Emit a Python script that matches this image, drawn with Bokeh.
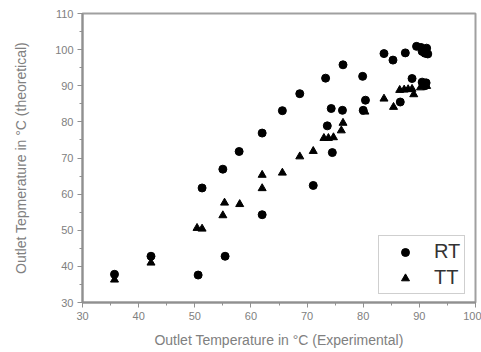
from bokeh.plotting import figure
from bokeh.models import Range1d, Legend, LegendItem, SingleIntervalTicker
from bokeh.embed import file_html
from bokeh.resources import INLINE

rt_x = [35.7, 42.2, 50.6, 51.3, 55.0, 55.4, 57.9, 62.0, 62.0, 65.6, 68.7, 71.1, 73.3, 73.6,
        74.3, 74.5, 76.3, 76.4, 79.9, 80.4, 80.0, 83.7, 85.3, 87.5, 86.6, 88.7, 89.5, 90.3,
        90.8, 91.3, 91.0, 90.5, 91.5, 90.5, 91.2, 91.0]
rt_y = [37.8, 42.8, 37.6, 61.7, 66.9, 42.8, 71.8, 76.9, 54.3, 83.1, 87.8, 62.4, 92.1, 78.9,
        83.7, 71.5, 83.2, 95.8, 92.6, 86.0, 83.2, 98.9, 97.1, 99.1, 85.5, 92.0, 100.9, 100.6,
        100.0, 100.4, 99.0, 99.5, 98.8, 91.0, 90.8, 90.0]

tt_x = [35.7, 42.2, 50.4, 51.3, 55.3, 55.0, 58.0, 62.0, 62.0, 65.6, 68.7, 71.1, 73.0, 73.8,
        74.7, 76.1, 76.4, 80.3, 83.7, 85.4, 86.5, 87.3, 88.0, 88.7, 89.0, 90.2, 91.3]
tt_y = [36.3, 41.0, 50.6, 50.4, 57.6, 54.1, 57.2, 65.3, 61.6, 65.9, 70.4, 71.9, 75.5, 75.5,
        75.7, 77.6, 79.7, 82.8, 86.4, 84.1, 88.8, 88.9, 89.0, 89.1, 87.6, 89.5, 89.9]

x_label = "Outlet Temperature in °C (Experimental)"
y_label = "Outlet Tepmerature in °C (theoretical)"

p = figure(width=481, height=352, x_range=Range1d(30, 100), y_range=Range1d(30, 110),
           output_backend="svg", toolbar_location=None,
           min_border_left=82, min_border_right=6, min_border_top=13, min_border_bottom=50)
p.background_fill_color = "white"
p.border_fill_color = "white"
p.xgrid.visible = False
p.ygrid.visible = False
p.outline_line_color = "#a0a0a0"
p.outline_line_width = 2

for ax, lab in ((p.xaxis[0], x_label), (p.yaxis[0], y_label)):
    ax.ticker = SingleIntervalTicker(interval=10, num_minor_ticks=2)
    ax.axis_label = lab
    ax.axis_line_color = "#909090"
    ax.axis_line_width = 2
    ax.major_tick_line_color = "#909090"
    ax.minor_tick_line_color = "#909090"
    ax.major_tick_out = 5
    ax.major_tick_in = 0
    ax.minor_tick_out = 3
    ax.minor_tick_in = 0
    ax.major_label_text_font = "Liberation Sans"
    ax.major_label_text_font_size = "11px"
    ax.major_label_text_color = "#808080"
    ax.axis_label_text_font = "Liberation Sans"
    ax.axis_label_text_font_size = "14px"
    ax.axis_label_text_font_style = "normal"
    ax.axis_label_text_color = "#808080"

p.xaxis.major_label_standoff = 4
p.xaxis.axis_label_standoff = 9
p.yaxis.major_label_standoff = 4
p.yaxis.axis_label_standoff = 23

r1 = p.scatter(rt_x, rt_y, marker="circle", size=8, color="black")
r2 = p.scatter(tt_x, tt_y, marker="triangle", size=8, color="black")

legend = Legend(items=[LegendItem(label="RT", renderers=[r1]),
                       LegendItem(label="TT", renderers=[r2])],
                location=(296, 8))
legend.label_text_font = "Liberation Sans"
legend.label_text_font_size = "20px"
legend.label_text_color = "#333333"
legend.border_line_color = "#a0a0a0"
legend.border_line_width = 1
legend.padding = 4
legend.margin = 0
legend.spacing = 3
legend.glyph_width = 44
legend.glyph_height = 20
legend.label_height = 20
legend.label_standoff = 7
legend.background_fill_alpha = 1
p.add_layout(legend)

open("out.html", "w").write(file_html(p, INLINE))
